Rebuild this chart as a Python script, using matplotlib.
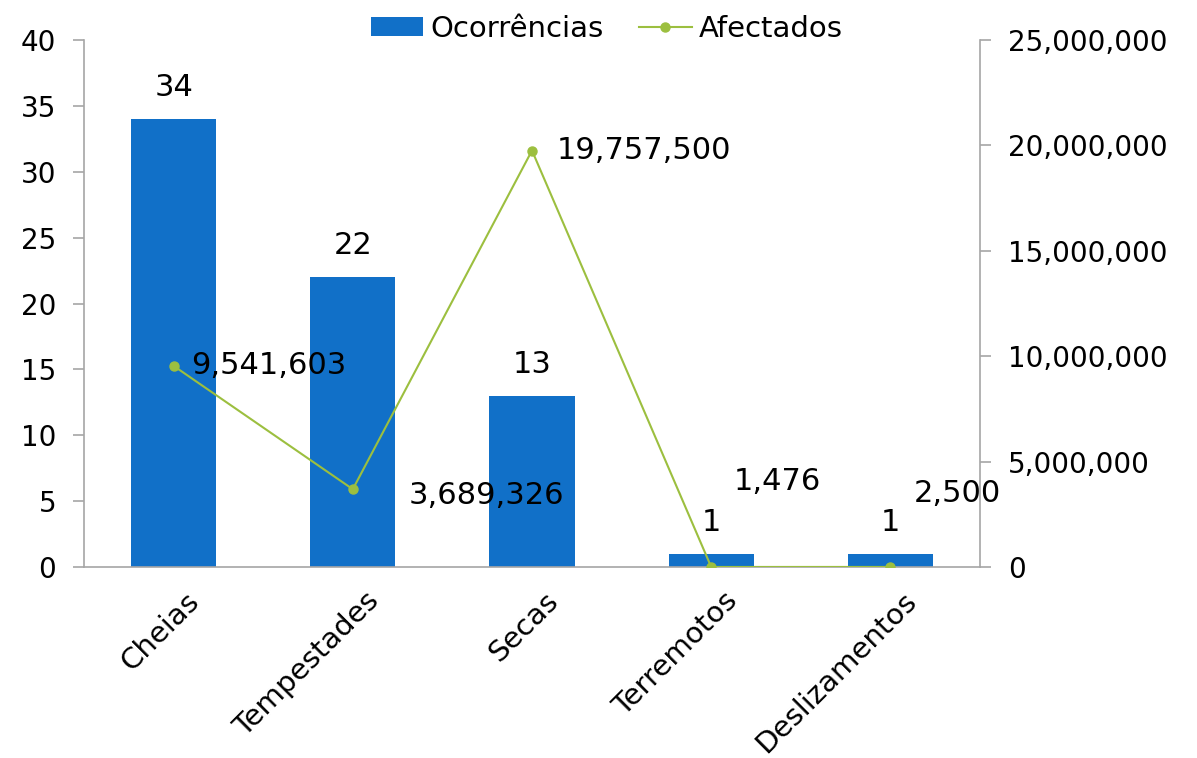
import matplotlib.pyplot as plt
from matplotlib.ticker import FuncFormatter

categories = ['Cheias', 'Tempestades', 'Secas', 'Terremotos', 'Deslizamentos']
ocorrencias = [34, 22, 13, 1, 1]
afectados = [9541603, 3689326, 19757500, 1476, 2500]
# label offsets (pixels) for the line labels, as placed in the original
line_label_offsets = [(18, 0), (56, -6), (25, 0), (22, 85), (23, 73)]

bar_color = '#1170C8'
line_color = '#9CBF3F'
grey = '#A6A6A6'

plt.rcParams['font.family'] = ['DejaVu Sans']
plt.rcParams['font.size'] = 20

fig = plt.figure(figsize=(11.97, 7.58), dpi=100)
ax = fig.add_axes([84 / 1197, 1 - 567 / 758, (980 - 84) / 1197, (567 - 40) / 758])
ax2 = ax.twinx()

x = list(range(len(categories)))
bars = ax.bar(x, ocorrencias, width=0.475, color=bar_color, label='Ocorrências', zorder=2)
line, = ax2.plot(x, afectados, color=line_color, lw=1.5, marker='o', markersize=6.5,
                 label='Afectados', zorder=3)

ax.set_xlim(-0.5, len(categories) - 0.5)
ax.set_ylim(0, 40)
ax.set_yticks(range(0, 41, 5))
ax2.set_ylim(0, 25e6)
ax2.set_yticks(range(0, 25000001, 5000000))
ax2.yaxis.set_major_formatter(FuncFormatter(lambda v, p: f'{int(v):,}'))

# category labels, drawn as rotated text just under the axis
ax.set_xticks(x)
ax.set_xticklabels([])
ax.tick_params(axis='x', length=0)
for xi, cat in zip(x, categories):
    ax.annotate(cat, (xi, 0), xycoords=('data', 'axes fraction'), xytext=(12, -20),
                textcoords='offset pixels', rotation=45, rotation_mode='anchor',
                ha='right', va='top', fontsize=21)

ax.tick_params(axis='y', length=8, color=grey, width=1.2, pad=12, labelsize=20)
ax2.tick_params(axis='y', length=8, color=grey, width=1.2, pad=12, labelsize=20)

for a in (ax, ax2):
    for s in a.spines.values():
        s.set_visible(False)
for a, side in ((ax, 'left'), (ax, 'bottom'), (ax2, 'right')):
    a.spines[side].set_visible(True)
    a.spines[side].set_color(grey)
    a.spines[side].set_linewidth(1.2)

for xi, v in zip(x, ocorrencias):
    ax.annotate(str(v), (xi, v), xytext=(0, 17), textcoords='offset pixels',
                ha='center', va='bottom', fontsize=22)

for xi, v, off in zip(x, afectados, line_label_offsets):
    ax2.annotate(f'{v:,}', (xi, v), xytext=off, textcoords='offset pixels',
                 ha='left', va='center', fontsize=22)

fig.legend([bars, line], ['Ocorrências', 'Afectados'], loc='upper center',
           bbox_to_anchor=(0.507, 1.015), ncol=2, frameon=False, fontsize=21,
           handlelength=1.8, handleheight=0.6, handletextpad=0.25, columnspacing=1.2)

fig.savefig('out.png', dpi=100)
